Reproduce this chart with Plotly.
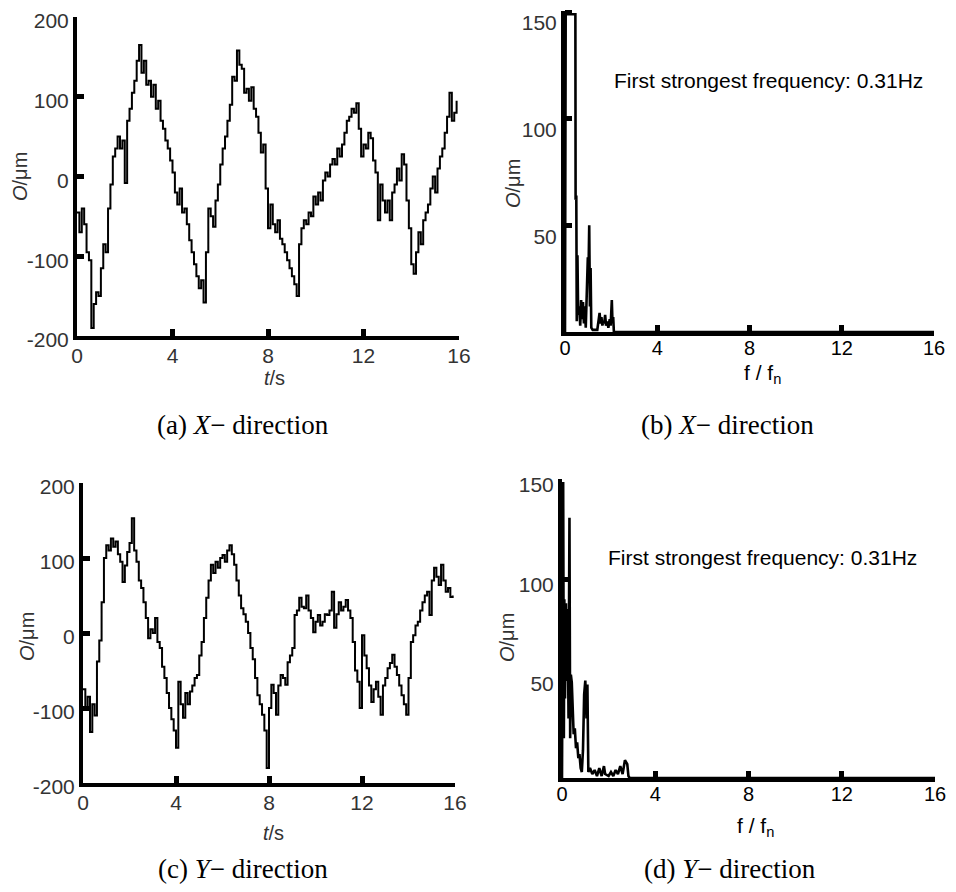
import plotly.graph_objects as go

# ---------------- data ----------------
# (a) X-direction displacement, sampled every 0.1 s
t_step = 0.1
x_disp = [-45, -70, -40, -60, -95, -105, -190, -160, -145, -150,
          -115, -85, -95, -40, -10, 25, 35, 50, 35, 45,
          -8, 70, 85, 105, 120, 145, 165, 130, 145, 115,
          120, 100, 115, 85, 95, 70, 60, 45, 35, 20,
          5, -20, -35, -15, -45, -40, -60, -80, -95, -110,
          -125, -140, -130, -158, -95, -40, -50, -63, -30, -10,
          15, 35, 50, 70, 90, 125, 120, 158, 140, 135,
          105, 110, 95, 112, 85, 75, 55, 30, 40, -15,
          -65, -35, -60, -70, -55, -78, -85, -95, -105, -115,
          -125, -135, -150, -85, -65, -55, -60, -45, -50, -25,
          -35, -20, -30, -5, 5, 0, 15, 22, 15, 35,
          25, 40, 55, 70, 75, 85, 80, 92, 60, 25,
          40, 35, 55, 48, 20, 5, -55, -10, -30, -45,
          -30, -55, -20, -10, 10, -5, 28, 15, -30, -65,
          -110, -122, -95, -70, -85, -55, -45, -35, -15, 0,
          -20, 10, 25, 35, 55, 75, 105, 70, 80, 95]

# (c) Y-direction displacement, sampled every 0.1 s
y_disp = [-75, -100, -85, -132, -95, -110, -38, -10, 41, 100,
          117, 110, 126, 115, 122, 105, 95, 68, 90, 108,
          120, 153, 110, 95, 70, 60, 41, 20, -7, 5,
          0, 20, -12, -20, -45, -60, -80, -100, -115, -130,
          -153, -65, -95, -113, -80, -95, -78, -70, -60, -56,
          -30, -12, 20, 47, 70, 91, 80, 95, 87, 100,
          104, 95, 110, 117, 105, 91, 70, 50, 33, 25,
          15, 0, -20, -35, -60, -83, -95, -109, -130, -180,
          -100, -69, -80, -109, -70, -56, -60, -69, -39, -30,
          -20, 24, 30, 47, 35, 33, 50, 30, 20, 1,
          15, 24, 10, 15, 25, 24, 30, 55, 7, 25,
          41, 30, 35, 44, 30, 20, -12, -50, -65, -100,
          -3, -30, -47, -70, -92, -75, -65, -85, -109, -70,
          -60, -47, -40, -29, -45, -56, -70, -83, -95, -109,
          -60, -12, -3, 10, 15, 30, 41, 50, 55, 24,
          70, 87, 75, 64, 91, 70, 55, 60, 48, 50]

# (b) X-direction amplitude spectrum
fx = [0.00, 0.03, 0.25, 0.45, 0.46, 0.49, 0.51, 0.54, 0.57, 0.62,
      0.66, 0.70, 0.74, 0.78, 0.82, 0.86, 0.90, 0.95, 0.99, 1.02,
      1.05, 1.08, 1.11, 1.14, 1.20, 1.40, 1.45, 1.50, 1.54, 1.58,
      1.62, 1.66, 1.70, 1.74, 1.78, 1.84, 1.88, 1.94, 1.98, 2.03,
      2.06, 2.09, 2.12, 16.0]
ax_amp = [0, 149, 149, 149, 62, 64, 5, 36, 8, 12,
          3, 15, 6, 14, 4, 12, 2, 20, 35, 28,
          50, 12, 30, 2, 1, 1, 5, 9, 4, 7,
          3, 5, 4, 8, 3, 5, 2, 6, 3, 15,
          4, 7, 0, 0]

# (d) Y-direction amplitude spectrum
fy = [0.00, 0.02, 0.05, 0.08, 0.10, 0.13, 0.17, 0.20, 0.24, 0.28,
      0.32, 0.35, 0.38, 0.42, 0.46, 0.50, 0.55, 0.60, 0.65, 0.70,
      0.75, 0.80, 0.85, 0.90, 0.95, 1.00, 1.05, 1.09, 1.13, 1.20,
      1.30, 1.40, 1.50, 1.60, 1.70, 1.80, 1.85, 2.00, 2.10, 2.20,
      2.30, 2.40, 2.50, 2.60, 2.70, 2.80, 2.85, 2.90, 16.0]
ay_amp = [0, 149, 149, 20, 90, 40, 88, 50, 85, 30,
          131, 20, 52, 48, 28, 22, 25, 15, 18, 10,
          12, 5, 3, 14, 42, 49, 30, 47, 3, 5,
          2, 4, 1, 5, 1, 6, 2, 1, 3, 1,
          4, 2, 6, 2, 9, 7, 1, 0, 0]

time_ticks = [0, 4, 8, 12, 16]
disp_ticks = [-200, -100, 0, 100, 200]
disp_ticktext = ["-200", "-100", "0", "100", "200"]
amp_ticks = [50, 100, 150]

caption_a = "(a) <i>X</i>− direction"
caption_b = "(b) <i>X</i>− direction"
caption_c = "(c) <i>Y</i>− direction"
caption_d = "(d) <i>Y</i>− direction"
note_text = "First strongest frequency: 0.31Hz"

# ---------------- figure ----------------
# the page body has an 8px margin, so the figure sits 8px in on each side
OFF = 8
W, H = 956 - 2 * OFF, 892 - 2 * OFF


def px(x):
    return (x - OFF) / W


def py(y):
    return 1 - (y - OFF) / H


t_a = [round(i * t_step, 1) for i in range(len(x_disp))]
t_c = [round(i * t_step, 1) for i in range(len(y_disp))]

fig = go.Figure()
line_style = dict(color="black", width=2.0, shape="hv")
spec_style = dict(color="black", width=2.6)

fig.add_trace(go.Scatter(x=t_a, y=x_disp, mode="lines", line=line_style, xaxis="x", yaxis="y"))
fig.add_trace(go.Scatter(x=fx, y=ax_amp, mode="lines", line=spec_style, xaxis="x2", yaxis="y2"))
fig.add_trace(go.Scatter(x=t_c, y=y_disp, mode="lines", line=line_style, xaxis="x3", yaxis="y3"))
fig.add_trace(go.Scatter(x=fy, y=ay_amp, mode="lines", line=spec_style, xaxis="x4", yaxis="y4"))

gray_font = dict(family="Liberation Sans, Arial, sans-serif", size=21, color="#333")
black_font = dict(family="Liberation Sans, Arial, sans-serif", size=20, color="black")

common = dict(showline=True, linecolor="black", linewidth=4, ticks="inside",
              ticklen=7, tickwidth=5, tickcolor="black", showgrid=False,
              zeroline=False, fixedrange=True, automargin=False,
              ticklabeloverflow="allow")

fig.update_layout(
    width=W, height=H, margin=dict(l=0, r=0, t=0, b=0),
    paper_bgcolor="white", plot_bgcolor="white", showlegend=False,
    xaxis=dict(domain=[px(77), px(459)], range=[0, 16], anchor="y",
               tickvals=time_ticks, tickfont=gray_font, ticklabelstandoff=-2, **common),
    yaxis=dict(domain=[py(336), py(17)], range=[-200, 200], anchor="x",
               tickvals=disp_ticks, ticktext=disp_ticktext, tickfont=gray_font,
               ticklabelshift=4, **common),
    xaxis2=dict(domain=[px(565), px(934)], range=[0, 16], anchor="y2",
                tickvals=time_ticks, tickfont=black_font, ticklabelstandoff=-5, **common),
    yaxis2=dict(domain=[py(332), py(11)], range=[0, 150.5], anchor="x2",
                tickvals=amp_ticks, tickfont=gray_font, ticklabelshift=11, **common),
    xaxis3=dict(domain=[px(83), px(455)], range=[0, 16], anchor="y3",
                tickvals=time_ticks, tickfont=gray_font, ticklabelstandoff=-2, **common),
    yaxis3=dict(domain=[py(783), py(483)], range=[-200, 200], anchor="x3",
                tickvals=disp_ticks, ticktext=disp_ticktext, tickfont=gray_font,
                ticklabelshift=4, **common),
    xaxis4=dict(domain=[px(562), px(935)], range=[0, 16], anchor="y4",
                tickvals=time_ticks, tickfont=black_font, ticklabelstandoff=-5, **common),
    yaxis4=dict(domain=[py(778), py(479)], range=[0, 150.5], anchor="x4",
                tickvals=amp_ticks, tickfont=gray_font, ticklabelshift=5, **common),
)

ann = []


def add_text(text, x, y, font, angle=0):
    ann.append(dict(text=text, x=px(x), y=py(y), xref="paper", yref="paper",
                    showarrow=False, xanchor="center", yanchor="middle",
                    textangle=angle, font=font))


title_font = dict(family="Liberation Sans, Arial, sans-serif", size=20, color="#333")
serif_font = dict(family="Liberation Serif, Times New Roman, serif", size=27, color="black")
note_font = dict(family="Liberation Sans, Arial, sans-serif", size=21, color="black")
fn_font = dict(family="Liberation Sans, Arial, sans-serif", size=21, color="black")

add_text("<i>O</i>/μm", 20, 177, title_font, -90)
add_text("<i>t</i>/s", 274, 378, title_font)
add_text("<i>O</i>/μm", 513, 184, title_font, -90)
add_text("f / f<sub>n</sub>", 762, 374, fn_font)
add_text("<i>O</i>/μm", 27, 637, title_font, -90)
add_text("<i>t</i>/s", 273, 833, title_font)
add_text("<i>O</i>/μm", 507, 637, title_font, -90)
add_text("f / f<sub>n</sub>", 755, 827, fn_font)

add_text(note_text, 768, 80, note_font)
add_text(note_text, 762, 557, note_font)

add_text(caption_a, 243, 425, serif_font)
add_text(caption_b, 727, 425, serif_font)
add_text(caption_c, 243, 869, serif_font)
add_text(caption_d, 730, 869, serif_font)

fig.update_layout(annotations=ann)
fig.write_html("out.html")
